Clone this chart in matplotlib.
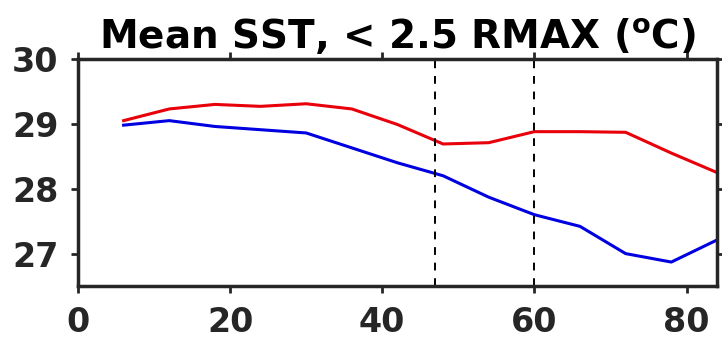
import matplotlib
matplotlib.use("Agg")
import matplotlib.pyplot as plt

plt.rcParams['font.family'] = ['DejaVu Sans']
plt.rcParams['mathtext.fontset'] = 'dejavusans'

# Radius bins and mean SST within 2.5 RMAX
radius = [6, 12, 18, 24, 30, 36, 42, 48, 54, 60, 66, 72, 78, 84]
sst_red = [29.05, 29.23, 29.30, 29.27, 29.31, 29.23, 28.99, 28.69, 28.71, 28.88, 28.88, 28.87, 28.55, 28.25]
sst_blue = [28.98, 29.05, 28.96, 28.91, 28.86, 28.63, 28.40, 28.20, 27.87, 27.60, 27.42, 27.00, 26.87, 27.21]
marker_lines = [47, 60]
xticks = [0, 20, 40, 60, 80]
yticks = [27, 28, 29, 30]

fig = plt.figure(figsize=(7.22, 3.43), dpi=100)
ax = fig.add_axes([0.108, 0.166, 0.885, 0.662])

ax.plot(radius, sst_red, color='#e8000b', lw=2.2)
ax.plot(radius, sst_blue, color='#0000e0', lw=2.2)
for xv in marker_lines:
    ax.axvline(xv, color='black', lw=1.4, ls=(0, (4, 4)))

ax.set_xlim(0, 84)
ax.set_ylim(26.5, 30)
ax.set_xticks(xticks)
ax.set_yticks(yticks)
ax.tick_params(direction='out', length=5, width=2, top=True, right=True,
               labelsize=24, colors='#262626', pad=9)
for lab in ax.get_xticklabels() + ax.get_yticklabels():
    lab.set_fontweight('bold')
for sp in ax.spines.values():
    sp.set_linewidth(2.5)
    sp.set_color('#262626')

ax.set_title(r'Mean SST, < 2.5 RMAX ($^{\mathbf{o}}$C)', fontsize=28,
             fontweight='bold', pad=7)

fig.savefig('out.png', dpi=100)
